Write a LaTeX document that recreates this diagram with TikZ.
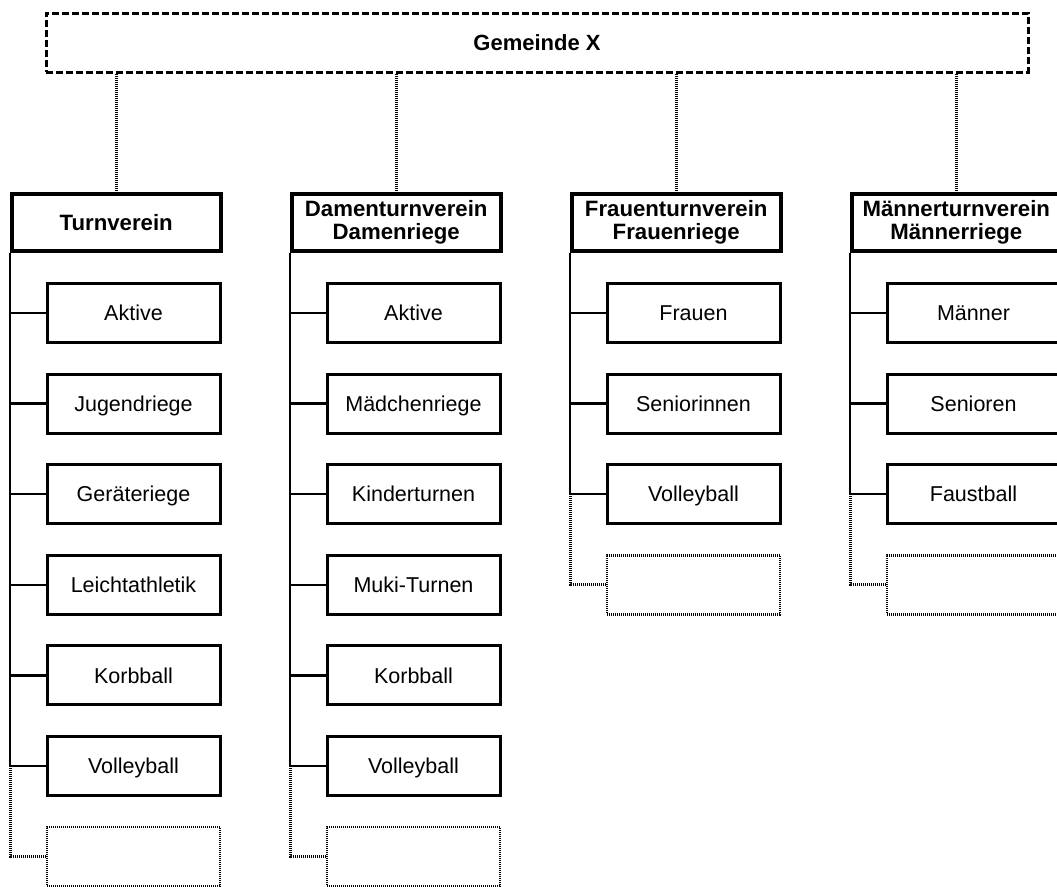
\documentclass[tikz,border=0pt]{standalone}
\usepackage{fontspec}
\setmainfont{Liberation Sans}
\begin{document}
\begin{tikzpicture}[x=1pt,y=-1pt,
  topbox/.style={draw, line width=3pt, dash pattern=on 7pt off 3pt, minimum width=982pt, minimum height=59pt, inner sep=0pt, font=\fontsize{22}{25}\selectfont\bfseries},
  clubbox/.style={draw, line width=4pt, minimum width=208.5pt, minimum height=56.5pt, inner sep=0pt, align=center, font=\fontsize{22.2}{23.5}\selectfont\bfseries},
  groupbox/.style={draw, line width=3pt, minimum width=173pt, minimum height=59pt, inner sep=0pt, text height=15.4pt, text depth=0pt, font=\fontsize{21.5}{24}\selectfont},
  freebox/.style={draw, line width=2.5pt, dash pattern=on 1pt off 1pt, minimum width=173pt, minimum height=59pt, inner sep=0pt},
  dotline/.style={line width=3pt, dash pattern=on 1pt off 1pt},
  solidline/.style={line width=2.5pt}
]
\useasboundingbox (0,0) rectangle (1057,886);
\clip (0,0) rectangle (1057,886);
\fill[white] (0,0) rectangle (1057,886);

\node[topbox] (top) at (537,42.5) {Gemeinde X};

% level 1
\node[clubbox] (c1) at (116.25,222.25) {Turnverein};
\node[clubbox] (c2) at (396.25,222.25) {Damenturnverein\\Damenriege};
\node[clubbox] (c3) at (676.25,222.25) {Frauenturnverein\\Frauenriege};
\node[clubbox] (c4) at (956.25,222.25) {Männerturnverein\\Männerriege};

\foreach \c in {c1,c2,c3,c4}
  \draw[dotline] (top.south -| \c.north) -- (\c.north);

% column 1
\node[groupbox] (c1r1) at (133.5,313) {Aktive};
\node[groupbox] (c1r2) at (133.5,403.6) {Jugendriege};
\node[groupbox] (c1r3) at (133.5,494.2) {Geräteriege};
\node[groupbox] (c1r4) at (133.5,584.8) {Leichtathletik};
\node[groupbox] (c1r5) at (133.5,675.4) {Korbball};
\node[groupbox] (c1r6) at (133.5,766) {Volleyball};
\node[freebox] (c1p) at (133.5,856.6) {};

% column 2
\node[groupbox] (c2r1) at (413.5,313) {Aktive};
\node[groupbox] (c2r2) at (413.5,403.6) {Mädchenriege};
\node[groupbox] (c2r3) at (413.5,494.2) {Kinderturnen};
\node[groupbox] (c2r4) at (413.5,584.8) {Muki-Turnen};
\node[groupbox] (c2r5) at (413.5,675.4) {Korbball};
\node[groupbox] (c2r6) at (413.5,766) {Volleyball};
\node[freebox] (c2p) at (413.5,856.6) {};

% column 3
\node[groupbox] (c3r1) at (693.5,313) {Frauen};
\node[groupbox] (c3r2) at (693.5,403.6) {Seniorinnen};
\node[groupbox] (c3r3) at (693.5,494.2) {Volleyball};
\node[freebox] (c3p) at (693.5,584.8) {};

% column 4
\node[groupbox] (c4r1) at (973.5,313) {Männer};
\node[groupbox] (c4r2) at (973.5,403.6) {Senioren};
\node[groupbox] (c4r3) at (973.5,494.2) {Faustball};
\node[freebox] (c4p) at (973.5,584.8) {};

% spines and connectors
\foreach \c/\n in {c1/6,c2/6,c3/3,c4/3}{
  \draw[solidline] (\c.south west) -- (\c.south west |- \c r\n.west);
  \foreach \i in {1,...,\n}
    \draw[solidline] (\c.south west |- \c r\i.west) -- (\c r\i.west);
  \draw[dotline] (\c.south west |- \c r\n.west) -- (\c.south west |- \c p.west) -- (\c p.west);
}
\end{tikzpicture}
\end{document}
